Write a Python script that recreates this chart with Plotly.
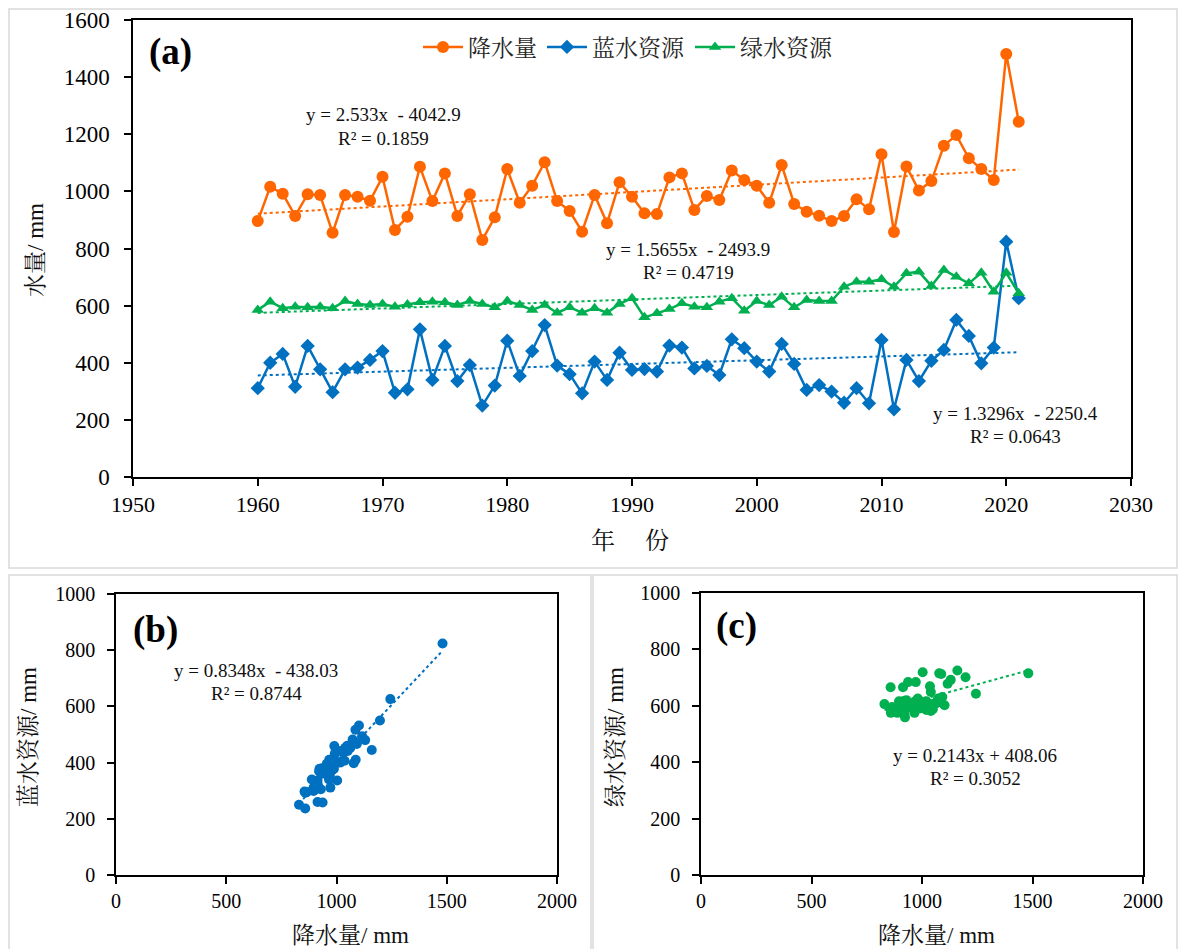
import plotly.graph_objects as go
import numpy as np

# ---------------- data ----------------
years = list(range(1960, 2022))
precip = [896, 1016, 992, 914, 990, 987, 855, 987, 981, 967,
          1051, 865, 911, 1086, 966, 1063, 914, 990, 830, 909,
          1078, 960, 1020, 1102, 966, 931, 859, 987, 888, 1032,
          981, 923, 921, 1049, 1063, 935, 984, 970, 1073, 1040,
          1020, 960, 1092, 956, 929, 915, 896, 914, 972, 937,
          1130, 858, 1087, 1003, 1036, 1160, 1197, 1116, 1078, 1040,
          1481, 1244]
blue = [311, 400, 431, 316, 459, 377, 297, 377, 383, 410,
        441, 295, 307, 517, 340, 459, 336, 392, 250, 320,
        477, 354, 441, 532, 390, 360, 293, 404, 340, 435,
        375, 378, 369, 460, 453, 380, 389, 357, 482, 451,
        404, 369, 466, 396, 305, 322, 299, 260, 311, 258,
        480, 237, 410, 336, 407, 445, 550, 494, 398, 453,
        824, 626]
green = [585, 614, 591, 596, 594, 596, 591, 616, 606, 602,
         606, 596, 604, 612, 614, 612, 602, 616, 606, 594,
         616, 602, 585, 602, 575, 594, 575, 591, 575, 606,
         626, 559, 573, 588, 608, 596, 594, 614, 626, 582,
         616, 602, 631, 594, 620, 616, 616, 666, 684, 684,
         692, 666, 713, 719, 669, 725, 701, 678, 715, 649,
         715, 643]

series_names = ["降水量", "蓝水资源", "绿水资源"]

# trendline coefficients (slope, intercept) as printed on the chart
coef_precip = [2.533, -4042.9]
coef_blue = [1.3296, -2250.4]
coef_green = [1.5655, -2493.9]
coef_b = [0.8348, -438.03]
coef_c = [0.2143, 408.06]

eq_precip = ["y = 2.533x  - 4042.9", "R² = 0.1859"]
eq_green = ["y = 1.5655x  - 2493.9", "R² = 0.4719"]
eq_blue = ["y = 1.3296x  - 2250.4", "R² = 0.0643"]
eq_b = ["y = 0.8348x  - 438.03", "R² = 0.8744"]
eq_c = ["y = 0.2143x + 408.06", "R² = 0.3052"]

# ---------------- style ----------------
ORANGE = "#FF6600"
BLUE = "#0070C0"
GREEN = "#00B050"
SERIF = "Times New Roman, Liberation Serif, Noto Serif CJK SC, Noto Sans CJK SC, serif"

# the page body has an 8px margin, so the figure starts at (8, 8) in the window
OFF = 8
FW, FH = 1188 - OFF, 949 - OFF


def px(x):
    return (x - OFF) / FW


def py(y):
    return 1 - (y - OFF) / FH


def trend(coef, xs):
    xs = np.array(xs, dtype=float)
    return coef[0] * xs + coef[1]


fig = go.Figure()

# ---- panel (a) ----
tx = [min(years), max(years)]
fig.add_trace(go.Scatter(x=years, y=precip, name=series_names[0], mode="lines+markers",
                         line=dict(color=ORANGE, width=2.5),
                         marker=dict(symbol="circle", size=12, color=ORANGE),
                         xaxis="x", yaxis="y"))
fig.add_trace(go.Scatter(x=years, y=blue, name=series_names[1], mode="lines+markers",
                         line=dict(color=BLUE, width=2.5),
                         marker=dict(symbol="diamond", size=11, color=BLUE),
                         xaxis="x", yaxis="y"))
fig.add_trace(go.Scatter(x=years, y=green, name=series_names[2], mode="lines+markers",
                         line=dict(color=GREEN, width=2.5),
                         marker=dict(symbol="triangle-up", size=11, color=GREEN),
                         xaxis="x", yaxis="y"))
for coef, col in [(coef_precip, ORANGE), (coef_blue, BLUE), (coef_green, GREEN)]:
    fig.add_trace(go.Scatter(x=tx, y=trend(coef, tx), mode="lines", showlegend=False,
                             line=dict(color=col, width=2, dash="dot"),
                             xaxis="x", yaxis="y", hoverinfo="skip"))

# ---- panel (b) ----
fig.add_trace(go.Scatter(x=precip, y=blue, mode="markers", showlegend=False,
                         marker=dict(symbol="circle", size=10, color=BLUE),
                         xaxis="x2", yaxis="y2"))
bx = [min(precip), max(precip)]
fig.add_trace(go.Scatter(x=bx, y=trend(coef_b, bx), mode="lines", showlegend=False,
                         line=dict(color=BLUE, width=2, dash="dot"),
                         xaxis="x2", yaxis="y2", hoverinfo="skip"))

# ---- panel (c) ----
fig.add_trace(go.Scatter(x=precip, y=green, mode="markers", showlegend=False,
                         marker=dict(symbol="circle", size=10, color=GREEN),
                         xaxis="x3", yaxis="y3"))
fig.add_trace(go.Scatter(x=bx, y=trend(coef_c, bx), mode="lines", showlegend=False,
                         line=dict(color=GREEN, width=2, dash="dot"),
                         xaxis="x3", yaxis="y3", hoverinfo="skip"))

axis_common = dict(showline=True, linecolor="black", linewidth=1.5, mirror=True,
                   ticks="outside", ticklen=7, tickwidth=1.5, tickcolor="black",
                   showgrid=False, zeroline=False, automargin=False,
                   ticklabeloverflow="allow")

fig.update_layout(
    width=FW, height=FH, autosize=False,
    margin=dict(l=0, r=0, t=0, b=0, pad=0, autoexpand=False),
    paper_bgcolor="white", plot_bgcolor="white",
    font=dict(family=SERIF, color="black"),
    showlegend=True,
    legend=dict(orientation="h", x=px(628), y=py(47), xanchor="center", yanchor="middle",
                font=dict(size=23, family=SERIF, color="#262626"), bgcolor="rgba(0,0,0,0)",
                itemwidth=40, traceorder="normal"),
    xaxis=dict(domain=[px(133), px(1131)], anchor="y", range=[1950, 2030], dtick=10,
               tickfont=dict(size=22), **axis_common),
    yaxis=dict(domain=[py(477), py(20)], anchor="x", range=[0, 1600], dtick=200,
               tickfont=dict(size=23), ticklabelstandoff=10, **axis_common),
    xaxis2=dict(domain=[px(116), px(557)], anchor="y2", range=[0, 2000], dtick=500,
                tickfont=dict(size=20), **axis_common),
    yaxis2=dict(domain=[py(875), py(594)], anchor="x2", range=[0, 1000], dtick=200,
                tickfont=dict(size=20), ticklabelstandoff=8, **axis_common),
    xaxis3=dict(domain=[px(701), px(1143)], anchor="y3", range=[0, 2000], dtick=500,
                tickfont=dict(size=20), **axis_common),
    yaxis3=dict(domain=[py(875), py(593)], anchor="x3", range=[0, 1000], dtick=200,
                tickfont=dict(size=20), ticklabelstandoff=8, **axis_common),
)

# panel frames
frames = [(9, 9, 1177, 568), (9, 575, 591, 960), (593, 575, 1177, 960)]
for (x0, y0, x1, y1) in frames:
    fig.add_shape(type="rect", xref="paper", yref="paper",
                  x0=px(x0), x1=px(x1), y0=py(y1), y1=py(y0),
                  line=dict(color="#D9D9D9", width=1.5), fillcolor="rgba(0,0,0,0)",
                  layer="below")

ann = []


def text(x, y, s, size=19, bold=False, angle=0, color="#111111"):
    ann.append(dict(x=px(x), y=py(y), xref="paper", yref="paper",
                    text=("<b>%s</b>" % s) if bold else s,
                    showarrow=False, xanchor="center", yanchor="middle", textangle=angle,
                    font=dict(size=size, family=SERIF, color=color)))


# panel labels
text(170, 52, "(a)", size=37, bold=True, color="black")
text(155, 630, "(b)", size=37, bold=True, color="black")
text(736, 626, "(c)", size=37, bold=True, color="black")

# equations
for lines, (cx, cy) in [(eq_precip, (383, 115)), (eq_green, (688, 249)), (eq_blue, (1015, 413)),
                        (eq_b, (256, 670)), (eq_c, (975, 755))]:
    text(cx, cy, lines[0], size=19)
    text(cx, cy + 23, lines[1], size=19)

# axis titles
text(36, 250, "水量/ mm", size=23, angle=-90)
text(630, 541, "年\u3000 份", size=24)
text(28, 737, "蓝水资源/ mm", size=23, angle=-90)
text(350, 935, "降水量/ mm", size=23)
text(615, 737, "绿水资源/ mm", size=23, angle=-90)
text(936, 935, "降水量/ mm", size=23)

fig.update_layout(annotations=ann)

fig.write_html("out.html")
